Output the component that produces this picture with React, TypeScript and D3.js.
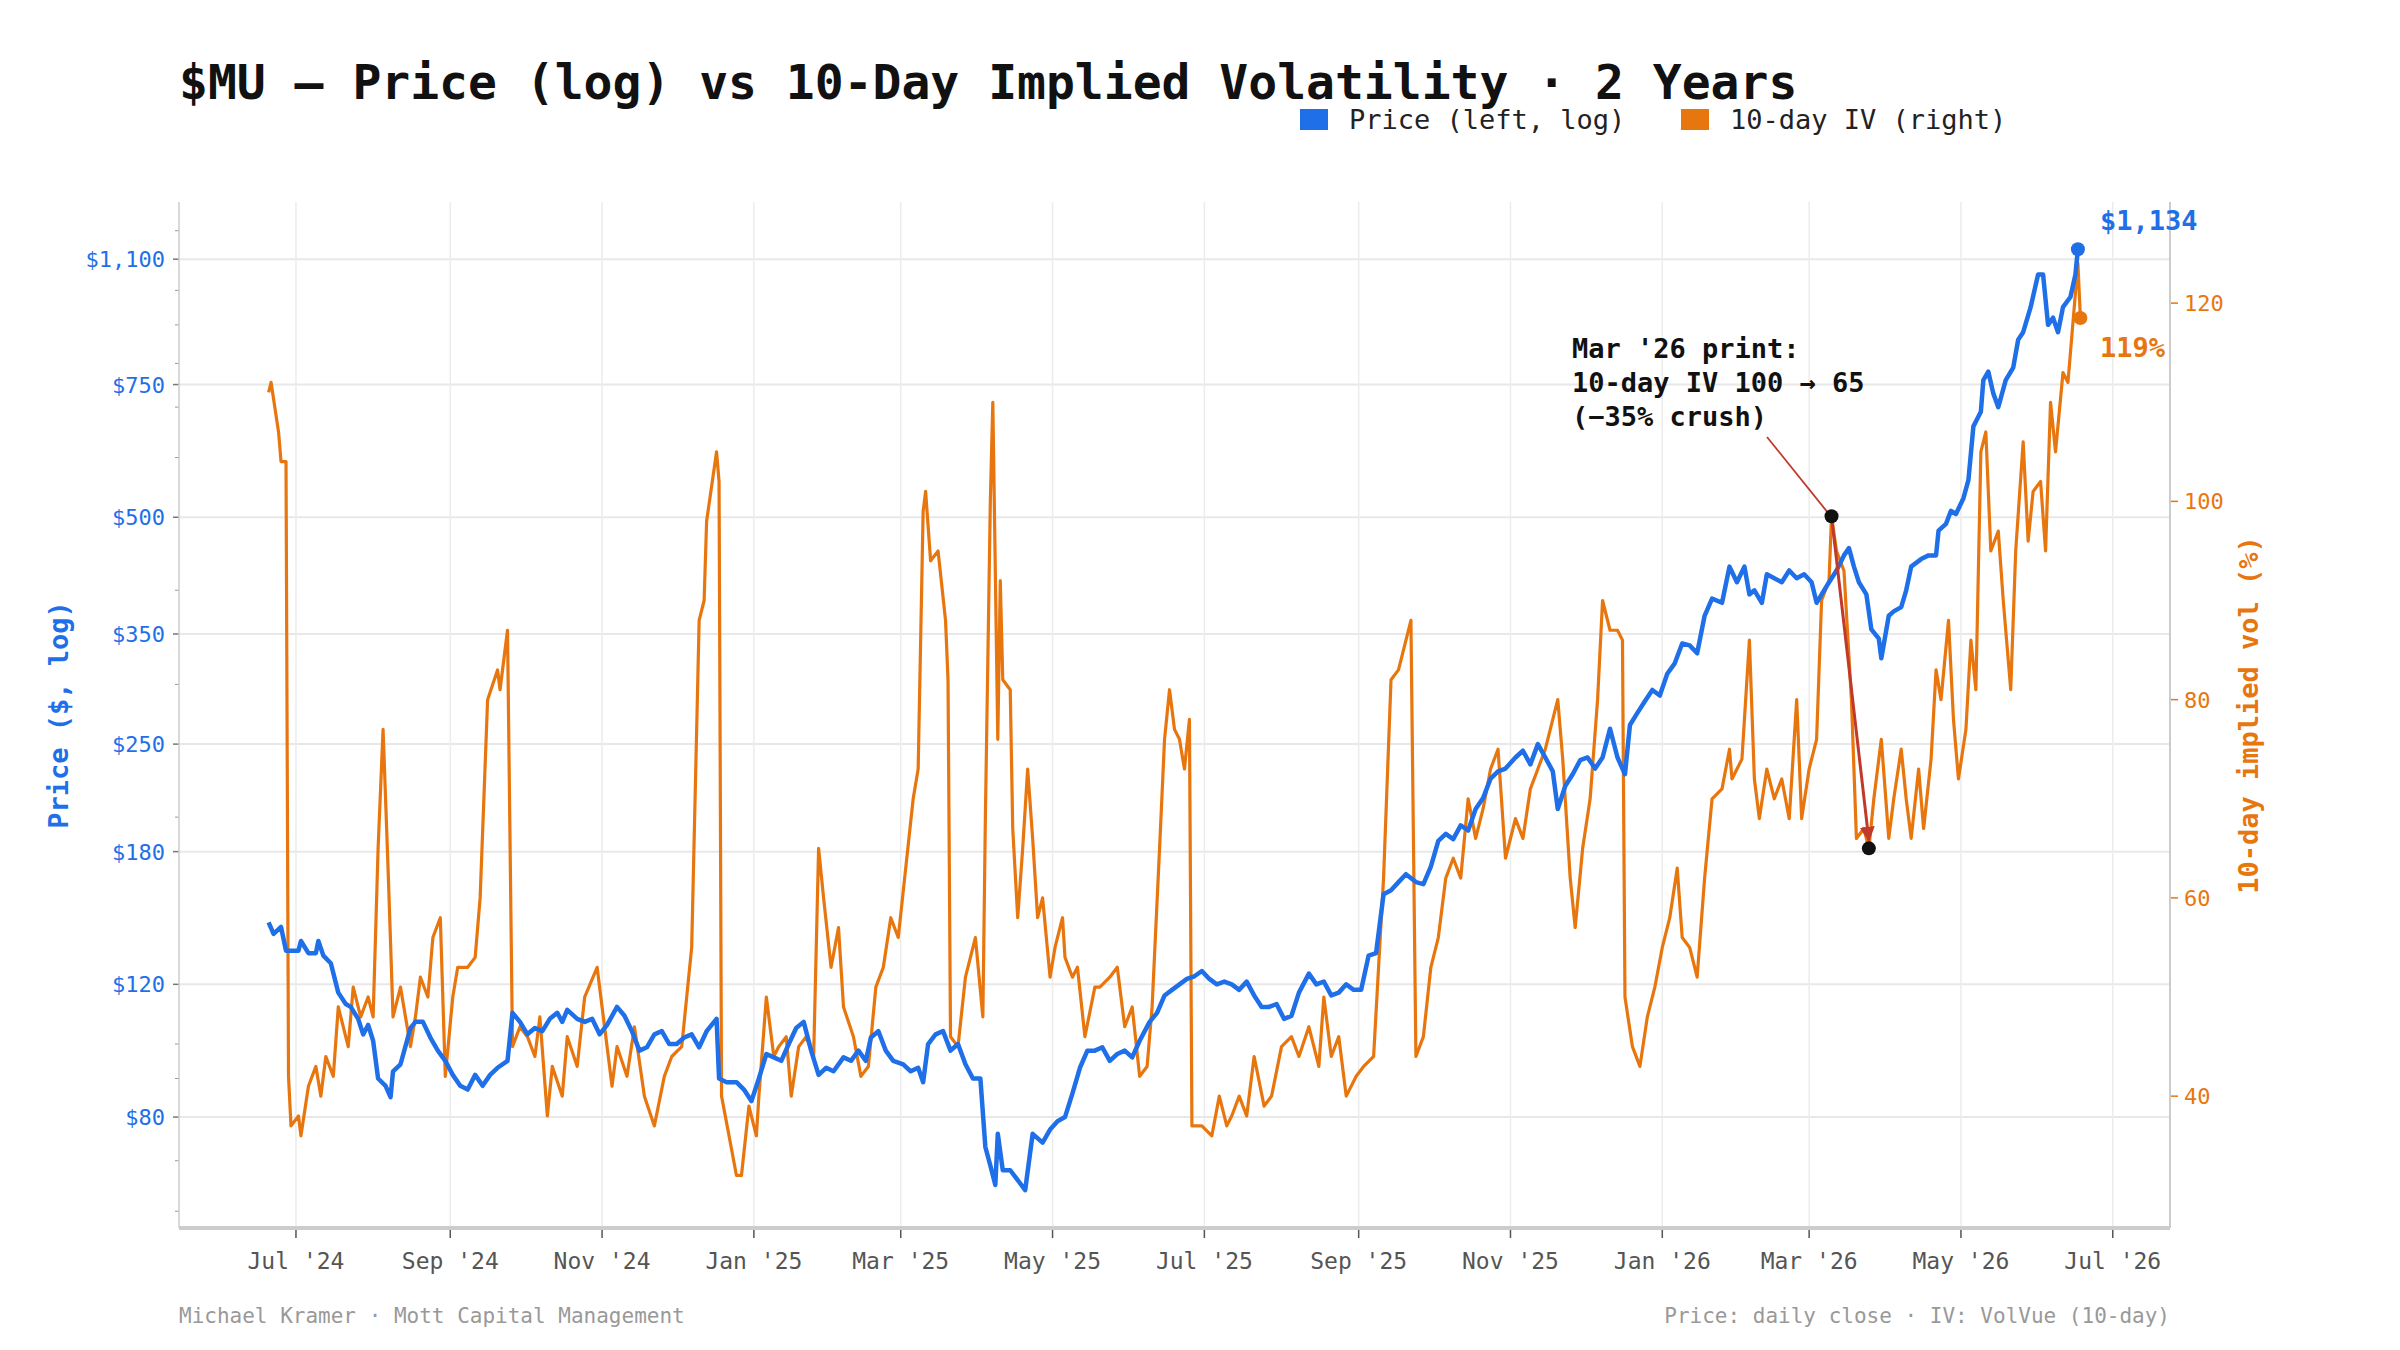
import React from "react";
import * as d3 from "d3";

// days since 2024-07-01
const priceDays = [-11,-9,-6,-4,1,2,5,8,9,11,14,17,20,22,25,27,29,31,33,36,38,39,42,46,48,51,54,57,60,63,66,69,72,75,78,81,85,87,90,93,96,99,102,105,107,109,113,116,119,122,125,129,132,135,138,141,144,147,150,153,156,159,162,165,169,170,173,177,180,183,186,189,192,195,198,201,204,207,210,213,216,220,223,226,229,231,234,237,240,244,247,250,252,254,257,260,263,266,269,272,275,277,279,281,282,284,287,290,293,296,300,303,306,309,312,315,318,321,324,327,330,333,336,339,343,346,349,352,355,358,361,364,367,370,373,376,379,382,385,388,391,394,397,400,403,407,410,413,416,419,422,425,428,431,434,437,440,443,446,450,453,456,459,462,465,468,471,474,477,480,483,486,490,493,496,499,502,505,507,510,513,516,519,522,525,528,531,534,536,539,542,545,548,551,554,557,560,563,566,569,573,576,579,582,584,586,589,591,594,597,600,603,606,609,611,614,616,619,622,624,626,628,631,633,636,637,640,642,645,647,649,653,656,659,660,663,665,667,670,672,674,677,678,680,682,684,687,690,692,694,697,700,702,704,706,708,710,713,715,716];
const priceValues = [145,140,143,133,133,137,132,132,137,131,128,117,113,112,108,103,106,101,90,88,85,92,94,105,107,107,102,98,95,91,88,87,91,88,91,93,95,110,107,103,105,104,108,110,107,111,108,107,108,103,106,112,109,104,98,99,103,104,100,100,102,103,99,104,108,90,89,89,87,84,90,97,96,95,100,105,107,98,91,93,92,96,95,98,95,102,104,98,95,94,92,93,89,100,103,104,98,100,94,90,90,73,69,65,76,68,68,66,64,76,74,77,79,80,86,93,98,98,99,95,97,98,96,101,107,110,116,118,120,122,123,125,122,120,121,120,118,121,116,112,112,113,108,109,117,124,120,121,116,117,120,118,118,131,132,158,160,164,168,164,163,172,186,190,187,195,192,205,212,225,230,232,240,245,235,250,240,230,205,220,228,238,240,232,240,262,240,228,265,275,285,295,290,310,320,340,338,330,370,390,385,430,410,430,395,400,385,420,415,410,425,415,420,410,385,400,410,425,445,455,430,410,395,355,345,325,370,375,380,400,430,440,445,445,480,490,510,505,530,560,660,690,760,780,730,700,760,790,860,880,950,1050,1050,900,920,880,950,980,1050,1134];

const ivDays = [-11,-10,-7,-6,-4,-3,-2,1,2,5,8,10,12,15,17,21,23,26,29,31,33,35,37,39,42,46,48,50,53,55,58,60,63,65,69,72,74,77,81,82,84,85,87,90,93,96,98,101,103,107,109,113,116,121,123,127,129,133,136,140,144,148,151,155,159,162,164,165,169,170,171,174,177,179,182,185,186,189,192,194,197,199,202,205,208,210,212,215,218,220,224,227,230,233,236,239,242,245,248,250,252,253,255,258,261,262,263,266,269,273,276,277,279,280,282,283,284,287,288,290,292,294,296,298,300,303,305,308,309,312,314,317,321,323,327,330,333,336,339,342,344,347,349,351,353,355,357,359,360,364,368,371,374,376,379,382,385,389,392,396,400,403,407,411,413,416,419,422,426,429,433,437,440,443,445,448,450,453,456,459,462,465,468,471,474,477,480,483,486,490,493,496,499,502,505,507,509,512,514,517,520,523,525,528,531,533,534,537,540,543,546,549,552,555,557,560,563,566,569,573,576,577,581,584,586,588,591,594,597,600,603,605,608,611,613,616,617,619,622,625,627,630,632,634,637,640,642,645,647,649,652,654,657,659,661,664,666,668,671,673,675,677,679,681,684,686,689,691,694,696,698,701,703,705,707,710,712,714,716,717];
const ivValues = [111,112,107,104,104,42,37,38,36,41,43,40,44,42,49,45,51,48,50,48,65,77,63,48,51,45,48,52,50,56,58,42,50,53,53,54,60,80,83,81,85,87,45,47,46,44,48,38,43,40,46,43,50,53,49,41,45,42,47,40,37,42,44,45,55,88,90,98,105,102,40,36,32,32,39,36,40,50,44,45,46,40,45,46,44,65,60,53,57,49,46,42,43,51,53,58,56,63,70,73,99,101,94,95,88,82,46,45,52,56,48,68,100,110,76,92,82,81,67,58,65,73,66,58,60,52,55,58,54,52,53,46,51,51,52,53,47,49,42,43,49,65,76,81,77,76,73,78,37,37,36,40,37,38,40,38,44,39,40,45,46,44,47,43,50,44,46,40,42,43,44,62,82,83,85,88,44,46,53,56,62,64,62,70,66,69,73,75,64,68,66,71,73,75,78,80,74,62,57,65,70,80,90,87,87,86,50,45,43,48,51,55,58,63,56,55,52,62,70,71,75,72,74,86,72,68,73,70,72,68,80,68,73,76,90,92,98.5,95,93,80,66,67,65,70,76,66,70,75,70,66,73,67,74,83,80,88,78,72,77,86,81,105,107,95,97,90,81,95,106,96,101,102,95,110,105,113,112,118,124,118.5];

const priceTicks = [80, 120, 180, 250, 350, 500, 750, 1100];
const ivTicks = [40, 60, 80, 100, 120];
const crushStart = { day: 617, iv: 98.5 };
const crushEnd = { day: 632, iv: 65 };

const BLUE = "#1f6fe8";
const ORANGE = "#e8760f";
const FONT = "'DejaVu Sans Mono', monospace";
const base = new Date(2024, 6, 1);
const toDate = (d: number) => d3.timeDay.offset(base, Math.round(d));

export default function App() {
  const W = 2400, H = 1350;
  const L = 179, R = 2170, T = 202, B = 1228;
  const x = d3.scaleTime().domain([toDate(-47), toDate(753)]).range([L, R]);
  const yP = d3.scaleLog().domain([57, 1310]).range([B, T]);
  const yV = d3.scaleLinear().domain([26.7, 130.2]).range([B, T]);
  const months = d3.timeMonth.every(2)!.range(new Date(2024, 6, 1), new Date(2026, 7, 2));
  const minor = [60, 70, 90, 100, 200, 300, 400, 600, 700, 800, 900, 1000, 1200];
  const pLine = d3.line<number>().x((_, i) => x(toDate(priceDays[i]))).y((v) => yP(v));
  const vLine = d3.line<number>().x((_, i) => x(toDate(ivDays[i]))).y((v) => yV(v));
  const fmtP = (v: number) => "$" + d3.format(",")(v);
  const lastP = priceValues[priceValues.length - 1];
  const lastV = ivValues[ivValues.length - 1];
  const lpX = x(toDate(priceDays[priceDays.length - 1]));
  const lvX = x(toDate(ivDays[ivDays.length - 1]));
  const s1 = { x: x(toDate(crushStart.day)), y: yV(crushStart.iv) };
  const s2 = { x: x(toDate(crushEnd.day)), y: yV(crushEnd.iv) };
  return (
    <svg width={W} height={H} style={{ position: "absolute", left: 0, top: 0, background: "#fff" }} fontFamily={FONT}>
      <defs>
        <marker id="arr" viewBox="0 0 10 10" refX="9" refY="5" markerWidth="5" markerHeight="5" orient="auto">
          <path d="M0,0 L10,5 L0,10 z" fill="#c0392b" />
        </marker>
      </defs>
      <rect width={W} height={H} fill="#fff" />
      <text x={179} y={99} fontSize={48} fontWeight="bold" fill="#111">$MU — Price (log) vs 10-Day Implied Volatility · 2 Years</text>
      <rect x={1300} y={109} width={28} height={21} fill={BLUE} />
      <text x={1349} y={129} fontSize={27} fill="#222">Price (left, log)</text>
      <rect x={1681} y={109} width={28} height={21} fill={ORANGE} />
      <text x={1730} y={129} fontSize={27} fill="#222">10-day IV (right)</text>
      {priceTicks.map((t) => (
        <g key={t}>
          <line x1={L} x2={R} y1={yP(t)} y2={yP(t)} stroke="#e8e8e8" strokeWidth={2} />
          <line x1={L - 6} x2={L} y1={yP(t)} y2={yP(t)} stroke="#777" strokeWidth={1.5} />
          <text x={L - 14} y={yP(t) + 8} textAnchor="end" fontSize={22} fill={BLUE}>{fmtP(t)}</text>
        </g>
      ))}
      {minor.map((t) => (
        <line key={t} x1={L - 4} x2={L} y1={yP(t)} y2={yP(t)} stroke="#999" strokeWidth={1} />
      ))}
      {months.map((m) => (
        <g key={+m}>
          <line x1={x(m)} x2={x(m)} y1={T} y2={B} stroke="#ececec" strokeWidth={1.5} />
          <line x1={x(m)} x2={x(m)} y1={B} y2={B + 10} stroke="#555" strokeWidth={1.5} />
          <text x={x(m)} y={B + 41} textAnchor="middle" fontSize={23} fill="#555">{d3.timeFormat("%b '%y")(m)}</text>
        </g>
      ))}
      {ivTicks.map((t) => (
        <g key={t}>
          <line x1={R} x2={R + 8} y1={yV(t)} y2={yV(t)} stroke={ORANGE} strokeWidth={1.5} />
          <text x={R + 14} y={yV(t) + 8} fontSize={22} fill={ORANGE}>{t}</text>
        </g>
      ))}
      <line x1={L} x2={L} y1={T} y2={B} stroke="#ccc" strokeWidth={1.5} />
      <line x1={R} x2={R} y1={T} y2={B} stroke="#ccc" strokeWidth={2} />
      <line x1={L} x2={R} y1={B} y2={B} stroke="#ccc" strokeWidth={4} />
      <path d={vLine(ivValues) || ""} fill="none" stroke={ORANGE} strokeWidth={3.2} strokeLinejoin="round" />
      <path d={pLine(priceValues) || ""} fill="none" stroke={BLUE} strokeWidth={4.5} strokeLinejoin="round" />
      <line x1={s1.x} y1={s1.y} x2={s2.x} y2={s2.y - 8} stroke="#c0392b" strokeWidth={3} markerEnd="url(#arr)" />
      <line x1={1767} y1={437} x2={s1.x - 4} y2={s1.y - 4} stroke="#c0392b" strokeWidth={1.8} />
      <circle cx={s1.x} cy={s1.y} r={7} fill="#111" />
      <circle cx={s2.x} cy={s2.y} r={7} fill="#111" />
      <text fontSize={27} fontWeight="bold" fill="#111">
        <tspan x={1572} y={358}>Mar '26 print:</tspan>
        <tspan x={1572} y={392}>10-day IV 100 → 65</tspan>
        <tspan x={1572} y={426}>(−35% crush)</tspan>
      </text>
      <circle cx={lpX} cy={yP(lastP)} r={7} fill={BLUE} />
      <circle cx={lvX} cy={yV(lastV)} r={7} fill={ORANGE} />
      <text x={2100} y={230} fontSize={27} fontWeight="bold" fill={BLUE}>{fmtP(lastP)}</text>
      <text x={2100} y={357} fontSize={27} fontWeight="bold" fill={ORANGE}>{Math.round(lastV)}%</text>
      <text transform={`translate(68,${(T + B) / 2}) rotate(-90)`} textAnchor="middle" fontSize={27} fontWeight="bold" fill={BLUE}>Price ($, log)</text>
      <text transform={`translate(2258,${(T + B) / 2}) rotate(-90)`} textAnchor="middle" fontSize={27} fontWeight="bold" fill={ORANGE}>10-day implied vol (%)</text>
      <text x={179} y={1323} fontSize={21} fill="#999">Michael Kramer · Mott Capital Management</text>
      <text x={2170} y={1323} textAnchor="end" fontSize={21} fill="#999">Price: daily close · IV: VolVue (10-day)</text>
    </svg>
  );
}
